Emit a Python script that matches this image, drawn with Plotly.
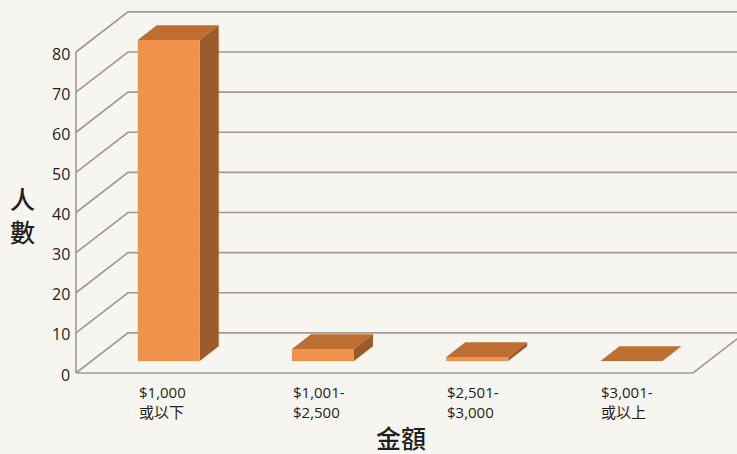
import plotly.graph_objects as go

# ---- data ----
categories = ["$1,000<br>或以下", "$1,001-<br>$2,500", "$2,501-<br>$3,000", "$3,001-<br>或以上"]
counts = [80, 3, 1, 0]
y_ticks = [0, 10, 20, 30, 40, 50, 60, 70, 80]
x_title = "金額"
y_title = "人<br>數"

# ---- styling / geometry ----
W, H = 737, 454
BG = "#F7F5F0"
GRID = "#9D9A95"
FRONT = "#F0924A"
TOP = "#BC6F30"
SIDE = "#9C5B2C"
TXT = "#231F20"
LATIN = "Open Sans, Noto Sans CJK TC, sans-serif"
CJK = "Noto Sans CJK TC, sans-serif"

# pixel mapping (plot area = whole figure)
PX0, CATW = 76.0, 154.25        # front-left edge pixel, px per category
PY0, PPU = 373.0, 4.0125        # zero-line pixel, px per value unit
xr = [-0.5 - PX0 / CATW, -0.5 + (W - PX0) / CATW]
yr = [-(H - PY0) / PPU, PY0 / PPU]

DX = 52.0 / CATW   # depth offset in x units
DY = 10.0          # depth offset in y units (40px)
F0, F1 = 0.30, 0.665   # bar depth range (fraction of full depth)
HW = 0.201             # half bar width

n = len(categories)
x_left, x_right = -0.5, n - 0.5
ymax = max(y_ticks)

fig = go.Figure()

# walls / gridlines
gx, gy = [], []
for v in y_ticks:
    gx += [x_left, x_left + DX, xr[1] + 1, None]
    gy += [v, v + DY, v + DY, None]
# floor front edge + right depth edge
gx += [x_left, x_right, x_right + DX * 3, None]
gy += [0, 0, DY * 3, None]
# front vertical axis
gx += [x_left, x_left, None]
gy += [0, ymax, None]
fig.add_trace(go.Scatter(x=gx, y=gy, mode="lines",
                         line=dict(color=GRID, width=1.6),
                         hoverinfo="skip", showlegend=False))


def poly(xs, ys, color):
    fig.add_trace(go.Scatter(x=xs + [xs[0]], y=ys + [ys[0]], mode="lines",
                             fill="toself", fillcolor=color,
                             line=dict(width=0, color=color),
                             hoverinfo="skip", showlegend=False))


for i, v in enumerate(counts):
    fx0 = i - HW + F0 * DX
    fx1 = i + HW + F0 * DX
    fy0 = F0 * DY
    fy1 = v + F0 * DY
    bdx = (F1 - F0) * DX
    bdy = (F1 - F0) * DY
    # top face
    poly([fx0, fx1, fx1 + bdx, fx0 + bdx], [fy1, fy1, fy1 + bdy, fy1 + bdy], TOP)
    if v > 0:
        # side face
        poly([fx1, fx1 + bdx, fx1 + bdx, fx1], [fy0, fy0 + bdy, fy1 + bdy, fy1], SIDE)
        # front face
        poly([fx0, fx1, fx1, fx0], [fy0, fy0, fy1, fy1], FRONT)

annotations = []
for v in y_ticks:
    annotations.append(dict(x=x_left, y=v, xref="x", yref="y", text=str(v),
                            showarrow=False, xanchor="right", yanchor="middle",
                            xshift=-4, yshift=-1.5,
                            font=dict(family=LATIN, size=16, color=TXT)))
for i, c in enumerate(categories):
    annotations.append(dict(x=i - HW + F0 * DX, y=0, xref="x", yref="y", text=c,
                            showarrow=False, xanchor="left", yanchor="top",
                            align="left", yshift=-7, xshift=-1,
                            font=dict(family=LATIN, size=15, color=TXT)))
annotations.append(dict(x=-0.5 + (401 - PX0) / CATW, y=(PY0 - 437) / PPU,
                        xref="x", yref="y", text=x_title, showarrow=False,
                        xanchor="center", yanchor="middle",
                        font=dict(family=CJK, size=25, color=TXT, weight=500)))
annotations.append(dict(x=-0.5 + (22 - PX0) / CATW, y=(PY0 - 214) / PPU,
                        xref="x", yref="y", text=y_title, showarrow=False,
                        xanchor="center", yanchor="middle",
                        font=dict(family=CJK, size=25, color=TXT, weight=500)))

fig.update_layout(
    width=W, height=H,
    margin=dict(l=0, r=0, t=0, b=0),
    paper_bgcolor=BG, plot_bgcolor=BG,
    xaxis=dict(range=xr, visible=False, fixedrange=True),
    yaxis=dict(range=yr, visible=False, fixedrange=True),
    annotations=annotations,
    showlegend=False,
)

fig.write_html("out.html")
